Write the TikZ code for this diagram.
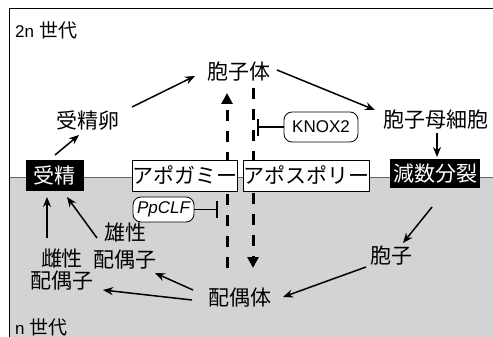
\documentclass[tikz,border=0pt]{standalone}
\usepackage{fontspec}
\setmainfont{Liberation Sans}
\newfontfamily\cjk{Noto Sans CJK JP}
\usetikzlibrary{arrows.meta,calc}
\definecolor{bg}{RGB}{211,211,211}
\begin{document}
\begin{tikzpicture}[x=1pt,y=-1pt,
 jp/.style={font=\cjk\fontsize{21}{25}\selectfont, inner sep=0pt},
 gen/.style={font=\fontsize{19}{22}\selectfont, inner sep=0pt, anchor=west},
 blk/.style={jp, fill=black, text=white},
 wbox/.style={jp, draw=black, fill=white, line width=0.8pt, minimum height=31pt},
 gene/.style={draw=black, fill=white, rounded corners=8pt, line width=0.8pt, font=\fontsize{17}{20}\selectfont, inner sep=0pt},
 arr/.style={line width=1.5pt, -{Stealth[length=10pt,width=8pt]}},
 darr/.style={line width=3pt, dash pattern=on 11pt off 10pt, -{Triangle[length=11pt,width=11pt]}},
 inh/.style={line width=1.5pt, -{Bar[width=17pt,line width=2pt]}},
]
\path[use as bounding box] (0,0) rectangle (493,337);
\fill[bg] (9,177) rectangle (493,337);
\draw[line width=0.8pt, black!60] (9,177) -- (493,177);
\draw[line width=1pt] (9,337) -- (9,9) -- (493,9);

\node[gen] (g2n) at (15,30) {{\fontsize{17}{20}\selectfont 2n}\hspace{5pt}{\cjk 世代}};
\node[gen] (gn) at (15,327) {{\fontsize{17}{20}\selectfont n}\hspace{5pt}{\cjk 世代}};

\node[jp] (spo) at (239,72) {胞子体};
\node[jp] (zyg) at (88,121) {受精卵};
\node[jp] (smc) at (436,120) {胞子母細胞};
\node[jp] (spore) at (391,256) {胞子};
\node[jp] (gam) at (240,298) {配偶体};
\node[jp, align=center] (male) at (125,246) {雄性\\[2pt]配偶子};
\node[jp, align=center] (female) at (62,270) {雌性\\[-3pt]配偶子};

% dashed arrows (behind boxes)
\draw[darr] ($(gam)+(-13,-30)$) -- ($(spo)+(-12,21)$);
\draw[darr] ($(spo)+(14,16)$) -- ($(gam)+(13,-30)$);

\node[blk, minimum width=58pt, minimum height=31pt] (fert) at (55,175.5) {受精};
\node[blk, minimum width=90pt, minimum height=29pt] (mei) at (435,173.5) {減数分裂};
\node[wbox, minimum width=104pt] (apog) at (185,175.5) {アポガミー};
\node[wbox, minimum width=126pt] (apos) at (306,175.5) {アポスポリー};
\node[gene, minimum width=74pt, minimum height=30pt] (knox) at (321,127) {KNOX2};
\node[gene, minimum width=61pt, minimum height=25pt] (clf) at (163.5,209.5) {\itshape PpCLF};

\coordinate (kbar) at (257,127);
\coordinate (cbar) at (218,209.5);
\draw[inh] (knox.west) -- (kbar);
\draw[inh] (clf.east) -- (cbar);

\draw[arr] ($(fert)+(0,-20.5)$) -- ($(zyg)+(-9,14)$);
\draw[arr] ($(zyg)+(44,-14)$) -- ($(spo)+(-44,4)$);
\draw[arr] ($(spo)+(38,-2)$) -- ($(smc)+(-61,-10)$);
\draw[arr] ($(smc)+(1,13)$) -- ($(mei)+(2,-16.5)$);
\draw[arr] ($(mei)+(-3,33.5)$) -- ($(spore)+(12,-13)$);
\draw[arr] ($(spore)+(-25,11)$) -- ($(gam)+(43,-1)$);
\draw[arr] ($(gam)+(-47,-8)$) -- ($(male)+(30,27)$);
\draw[arr] ($(gam)+(-48,2)$) -- ($(female)+(41,20)$);
\draw[arr] ($(female)+(-15,-32)$) -- ($(fert)+(-8,21.5)$);
\draw[arr] ($(male)+(-28,-8)$) -- ($(fert)+(12,21.5)$);
\end{tikzpicture}
\end{document}
